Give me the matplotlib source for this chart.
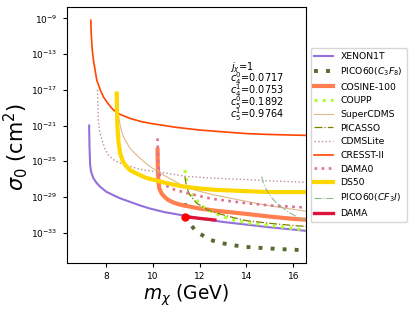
import numpy as np
import matplotlib
matplotlib.use("Agg")
import matplotlib.pyplot as plt

# ---- data (x in GeV, y as log10 of sigma in cm^2) ----
xenon_x = [7.274, 7.29, 7.317, 7.36, 7.458, 7.6, 7.744, 8.0, 8.31, 8.6, 9.025, 9.45, 9.88, 10.5, 11.37, 12.0, 13.0, 14.0, 15.0, 16.0, 16.55]
xenon_y = [-21.0, -23.4, -25.4, -26.2, -26.9, -27.45, -27.85, -28.4, -28.8, -29.15, -29.55, -29.95, -30.3, -30.7, -31.1, -31.4, -31.8, -32.1, -32.4, -32.65, -32.8]

pico_c3f8_x = [11.37, 11.45, 11.55, 11.66, 11.8, 12.0, 12.44, 12.9, 13.4, 14.0, 14.86, 15.5, 16.0, 16.55]
pico_c3f8_y = [-29.7, -30.9, -31.7, -32.25, -32.7, -33.1, -33.8, -34.15, -34.4, -34.6, -34.75, -34.85, -34.9, -35.0]

cosine_x = [10.2, 10.21, 10.23, 10.27, 10.37, 10.5, 10.66, 10.9, 11.23, 11.94, 12.65, 14.0, 15.0, 16.0, 16.55]
cosine_y = [-23.74, -25.5, -27.1, -28.0, -28.6, -29.0, -29.34, -29.65, -29.9, -30.27, -30.53, -30.9, -31.2, -31.45, -31.55]

coupp_x = [11.37, 11.4, 11.44, 11.5, 11.66, 11.94, 12.23, 12.58, 13.3, 14.0, 14.72, 15.5, 16.2, 16.55]
coupp_y = [-25.98, -26.6, -27.1, -27.9, -28.7, -29.6, -30.27, -30.75, -31.5, -31.9, -32.1, -32.35, -32.6, -32.7]

scdms_x = [8.47, 8.5, 8.53, 8.57, 8.65, 8.74, 9.02, 9.45, 9.88, 10.5, 11.45, 12.5, 14.0, 15.0, 16.55]
scdms_y = [-19.0, -19.4, -19.9, -20.6, -21.5, -22.25, -23.55, -24.67, -25.6, -26.6, -28.0, -28.7, -29.5, -30.0, -30.6]

picasso_x = [11.37, 11.4, 11.44, 11.5, 11.58, 11.87, 12.3, 12.65, 13.5, 14.0, 15.0, 16.0, 16.55]
picasso_y = [-26.7, -27.3, -27.85, -28.3, -28.78, -29.7, -30.38, -30.75, -31.35, -31.65, -31.95, -32.2, -32.3]

cdmslite_x = [7.63, 7.65, 7.67, 7.72, 7.82, 7.95, 8.1, 8.3, 8.6, 9.0, 9.31, 9.67, 10.38, 11.45, 12.65, 14.0, 15.0, 16.55]
cdmslite_y = [-17.0, -19.0, -20.4, -21.6, -22.6, -23.6, -24.3, -24.8, -25.2, -25.55, -25.8, -26.0, -26.25, -26.7, -26.9, -27.05, -27.2, -27.35]

cresst_x = [7.345, 7.36, 7.4, 7.46, 7.6, 7.75, 7.886, 8.1, 8.31, 8.6, 9.025, 9.5, 9.88, 10.5, 11.0, 12.0, 13.0, 14.0, 15.0, 16.55]
cresst_y = [-9.2, -10.5, -12.3, -13.7, -15.9, -17.0, -17.8, -18.6, -19.25, -19.75, -20.2, -20.55, -20.75, -21.0, -21.2, -21.5, -21.7, -21.9, -22.0, -22.1]

dama0_x = [10.2, 10.21, 10.23, 10.26, 10.3, 10.4, 10.51, 10.94, 11.51, 12.5, 14.0, 15.0, 16.0, 16.55]
dama0_y = [-22.43, -23.8, -25.2, -26.1, -26.7, -27.3, -27.66, -28.2, -28.6, -29.2, -29.7, -29.95, -30.1, -30.2]

ds50_x = [8.455, 8.46, 8.47, 8.48, 8.53, 8.6, 8.7, 8.81, 9.0, 9.24, 9.7, 10.5, 11.23, 12.0, 12.65, 14.0, 15.0, 16.55]
ds50_y = [-17.4, -18.5, -19.6, -21.0, -22.8, -24.1, -24.9, -25.4, -25.95, -26.3, -26.85, -27.4, -27.8, -28.05, -28.2, -28.35, -28.45, -28.45]

pico_cf3i_x = [14.65, 14.7, 14.75, 14.86, 15.05, 15.29, 15.6, 15.86, 16.2, 16.55]
pico_cf3i_y = [-26.7, -27.2, -27.6, -28.2, -29.0, -29.7, -30.3, -30.8, -31.3, -31.6]

dama_x = [11.37, 12.0, 12.65]
dama_y = [-31.2, -31.4, -31.58]

labels = ["XENON1T", "PICO60($C_3F_8$)", "COSINE-100", "COUPP", "SuperCDMS", "PICASSO",
          "CDMSLite", "CRESST-II", "DAMA0", "DS50", "PICO60($CF_3I$)", "DAMA"]
annot_lines = [r"$j_\chi$=1", r"$c_4^0$=0.0717", r"$c_4^1$=0.0753", r"$c_5^0$=0.1892", r"$c_5^1$=0.9764"]
yticks_exp = [-33, -29, -25, -21, -17, -13, -9]
xticks = [8, 10, 12, 14, 16]

series = [
    (xenon_x, xenon_y, dict(color="mediumpurple", lw=1.5, ls="-")),
    (pico_c3f8_x, pico_c3f8_y, dict(color="darkolivegreen", lw=2.8, ls=(0, (1, 2.1)))),
    (cosine_x, cosine_y, dict(color="coral", lw=3.0, ls="-")),
    (coupp_x, coupp_y, dict(color="greenyellow", lw=2.2, ls=(0, (1, 1.7)))),
    (scdms_x, scdms_y, dict(color="burlywood", lw=0.8, ls="-")),
    (picasso_x, picasso_y, dict(color="olive", lw=0.9, ls="-.")),
    (cdmslite_x, cdmslite_y, dict(color="rosybrown", lw=1.0, ls=":")),
    (cresst_x, cresst_y, dict(color="orangered", lw=1.2, ls="-")),
    (dama0_x, dama0_y, dict(color="palevioletred", lw=1.9, ls=(0, (1, 1.7)))),
    (ds50_x, ds50_y, dict(color="gold", lw=3.0, ls="-")),
    (pico_cf3i_x, pico_cf3i_y, dict(color="darkseagreen", lw=0.8, ls="-.")),
    (dama_x, dama_y, dict(color="crimson", lw=2.4, ls="-")),
]

fig = plt.figure(figsize=(4.15, 3.12), dpi=100)
ax = fig.add_axes([0.161, 0.157, 0.576, 0.821])

for (xs, ys, st), lab in zip(series, labels):
    ax.plot(xs, 10.0 ** np.array(ys), label=lab, **st)
ax.plot(dama_x[0], 10.0 ** dama_y[0], "o", color="red", ms=5)

ax.set_yscale("log")
ax.set_xlim(6.32, 16.54)
ax.set_ylim(10 ** -36.4, 10 ** -7.7)
ax.set_yticks([10.0 ** e for e in yticks_exp])
ax.set_yticklabels([r"$10^{%d}$" % e for e in yticks_exp])
ax.yaxis.set_minor_locator(matplotlib.ticker.NullLocator())
ax.set_xticks(xticks)
ax.tick_params(labelsize=6.5, length=3)
ax.set_xlabel(r"$m_\chi$ (GeV)", fontsize=13.4, labelpad=1)
ax.set_ylabel(r"$\sigma_0$ (cm$^2$)", fontsize=15)
ax.yaxis.set_label_coords(-0.152, 0.455)

ax.text(0.682, 0.79, "\n".join(annot_lines), transform=ax.transAxes, fontsize=7,
        va="top", ha="left", linespacing=0.6)

ax.legend(loc="center left", bbox_to_anchor=(1.0, 0.5), fontsize=6.7, handlelength=2.0,
          labelspacing=0.5, borderaxespad=0.5)

fig.savefig("out.png", dpi=100)
